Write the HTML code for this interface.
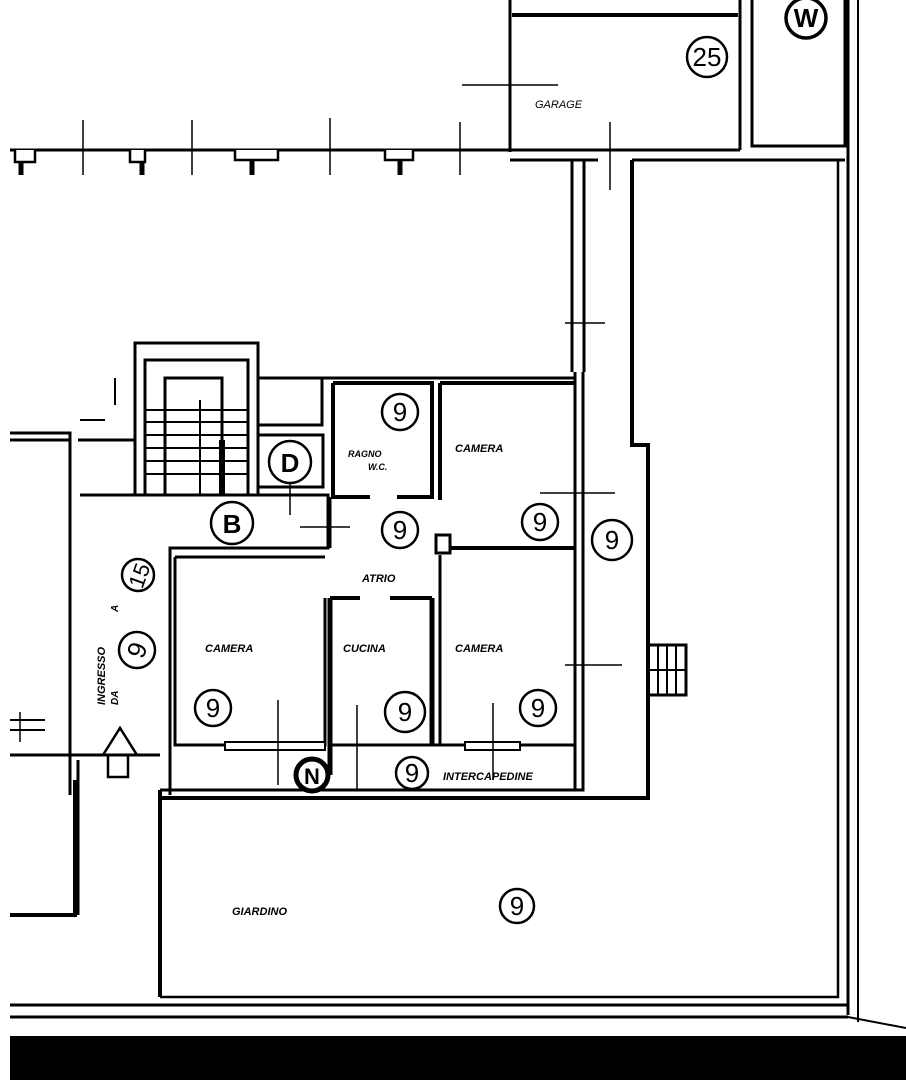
<!DOCTYPE html>
<html><head><meta charset="utf-8"><style>
html,body{margin:0;padding:0;background:#fff;width:906px;height:1080px;overflow:hidden}
svg{display:block}
text{font-family:"Liberation Sans",sans-serif;font-style:italic;font-weight:bold;fill:#000}
.c{fill:#fff;stroke:#000;stroke-width:2.5}
.n{font-style:normal;font-weight:normal;font-size:26px;text-anchor:middle}
</style></head><body>
<svg width="906" height="1080" viewBox="0 0 906 1080" xmlns="http://www.w3.org/2000/svg">
<g stroke="#000" fill="none" stroke-width="3">
<!-- garage -->
<line x1="510" y1="0" x2="510" y2="152"/>
<line x1="512" y1="15" x2="738" y2="15" stroke-width="4"/>
<line x1="740" y1="0" x2="740" y2="150"/>
<line x1="510" y1="150" x2="740" y2="150"/>
<line x1="510" y1="160" x2="598" y2="160"/>
<line x1="632" y1="160" x2="845" y2="160"/>
<line x1="462" y1="85" x2="558" y2="85" stroke-width="1.5"/>
<line x1="610" y1="122" x2="610" y2="190" stroke-width="1.5"/>
<!-- W box -->
<path d="M752 0 V146 H845 V0"/>
<line x1="848" y1="0" x2="848" y2="1015" stroke-width="3"/>
<line x1="858" y1="0" x2="858" y2="1022" stroke-width="2"/>
<!-- left long line -->
<line x1="10" y1="150" x2="510" y2="150"/>
<g stroke-width="1.5">
<line x1="83" y1="120" x2="83" y2="175"/><line x1="192" y1="120" x2="192" y2="175"/>
<line x1="330" y1="118" x2="330" y2="175"/><line x1="460" y1="122" x2="460" y2="175"/>
</g>
<g fill="#fff" stroke-width="2.5">
<path d="M15 150 V162 H35 V150"/><path d="M130 150 V162 H145 V150"/><path d="M235 150 V160 H278 V150"/><path d="M385 150 V160 H413 V150"/>
</g>
<g stroke-width="5"><line x1="21" y1="162" x2="21" y2="175"/><line x1="142" y1="162" x2="142" y2="175"/><line x1="252" y1="160" x2="252" y2="175"/><line x1="400" y1="160" x2="400" y2="175"/></g>
<!-- corridor -->
<line x1="572" y1="160" x2="572" y2="372"/>
<line x1="584" y1="160" x2="584" y2="372"/>
<line x1="565" y1="323" x2="605" y2="323" stroke-width="1.5"/>
<path d="M632 160 V445 H648 V800" stroke-width="4"/>
<!-- apartment top -->
<line x1="330" y1="378" x2="575" y2="378"/>
<path d="M575 372 V550"/><path d="M583 372 V790 H160"/>
<path d="M575 550 V790"/>
<line x1="540" y1="493" x2="615" y2="493" stroke-width="1.5"/>
<line x1="565" y1="665" x2="622" y2="665" stroke-width="1.5"/>
<!-- bathroom -->
<path d="M333 383 V497 H370 M397 497 H432 V383 H333" stroke-width="4"/>
<!-- camera top right -->
<path d="M440 383 V500 M445 548 H575 M440 383 H575" stroke-width="4"/>
<rect x="436" y="535" width="14" height="18" fill="#fff" stroke-width="3"/>
<!-- B corridor -->
<path d="M80 495 H328 V548 H170 V795" />
<path d="M330 497 V548"/>
<line x1="300" y1="527" x2="350" y2="527" stroke-width="1.5"/>
<line x1="290" y1="478" x2="290" y2="515" stroke-width="1.5"/>
<!-- camera left -->
<path d="M175 557 V745 H325 V598" stroke-width="3"/>
<line x1="175" y1="557" x2="325" y2="557"/>
<!-- cucina -->
<path d="M330 598 H360 M390 598 H432" stroke-width="4"/>
<line x1="330" y1="598" x2="330" y2="775" stroke-width="5"/>
<line x1="432" y1="598" x2="432" y2="745" stroke-width="5"/>
<line x1="440" y1="555" x2="440" y2="745" stroke-width="3"/>
<line x1="440" y1="745" x2="575" y2="745"/>
<line x1="330" y1="745" x2="440" y2="745"/>
<rect x="225" y="742" width="100" height="8" fill="#fff" stroke-width="2"/>
<rect x="465" y="742" width="55" height="8" fill="#fff" stroke-width="2"/>
<g stroke-width="1.5"><line x1="278" y1="700" x2="278" y2="785"/><line x1="357" y1="705" x2="357" y2="790"/><line x1="493" y1="703" x2="493" y2="780"/></g>
<!-- intercapedine -->
<line x1="160" y1="798" x2="648" y2="798" stroke-width="4"/>
<line x1="10" y1="755" x2="160" y2="755"/>
<!-- stair -->
<path d="M135 495 V343 H258 V495"/>
<path d="M145 495 V360 H248 V495"/>
<path d="M165 495 V378 H222 V495"/>
<g stroke-width="2"><line x1="145" y1="410" x2="248" y2="410"/><line x1="145" y1="422" x2="248" y2="422"/><line x1="145" y1="435" x2="248" y2="435"/><line x1="145" y1="448" x2="248" y2="448"/><line x1="145" y1="461" x2="248" y2="461"/><line x1="145" y1="474" x2="248" y2="474"/><line x1="200" y1="400" x2="200" y2="495"/></g>
<line x1="222" y1="440" x2="222" y2="495" stroke-width="6"/>
<path d="M258 378 V425 H322 V378 H258 M258 378 V343"/>
<line x1="258" y1="378" x2="330" y2="378"/>
<rect x="258" y="435" width="65" height="52"/>
<!-- left building -->
<path d="M10 433 H70 V795"/><path d="M78 440 H135 V480"/>
<path d="M10 440 H70"/>
<line x1="78" y1="760" x2="78" y2="915"/><line x1="160" y1="790" x2="160" y2="997" stroke-width="4"/>
<path d="M75 780 V915 H10" stroke-width="4"/>
<path d="M10 720 H45 M10 730 H45" stroke-width="2"/>
<line x1="20" y1="712" x2="20" y2="742" stroke-width="1.5"/>
<line x1="115" y1="378" x2="115" y2="405" stroke-width="2"/>
<line x1="80" y1="420" x2="105" y2="420" stroke-width="2"/>
<!-- arrow -->
<path d="M103 755 L120 728 L137 755" stroke-width="2.5"/>
<rect x="108" y="755" width="20" height="22" stroke-width="2.5"/>
<!-- right exterior stair -->
<rect x="648" y="645" width="38" height="50" stroke-width="3"/>
<g stroke-width="2"><line x1="648" y1="670" x2="686" y2="670"/><line x1="658" y1="645" x2="658" y2="695"/><line x1="667" y1="645" x2="667" y2="695"/><line x1="676" y1="645" x2="676" y2="695"/></g>
<!-- garden -->
<path d="M160 997 H838 V160" stroke-width="2.5"/>
<line x1="10" y1="1005" x2="848" y2="1005" stroke-width="3"/>
<line x1="10" y1="1017" x2="848" y2="1017" stroke-width="3"/>
<line x1="848" y1="1017" x2="906" y2="1028" stroke-width="2"/>
</g>
<rect x="10" y="1036" width="896" height="44" fill="#000"/>
<!-- circles -->
<g>
<circle class="c" cx="400" cy="412" r="18"/><text class="n" x="400" y="421">9</text>
<circle class="c" cx="400" cy="530" r="18"/><text class="n" x="400" y="539">9</text>
<circle class="c" cx="540" cy="522" r="18"/><text class="n" x="540" y="531">9</text>
<circle class="c" cx="612" cy="540" r="20"/><text class="n" x="612" y="549">9</text>
<circle class="c" cx="213" cy="708" r="18"/><text class="n" x="213" y="717">9</text>
<circle class="c" cx="405" cy="712" r="20"/><text class="n" x="405" y="721">9</text>
<circle class="c" cx="538" cy="708" r="18"/><text class="n" x="538" y="717">9</text>
<circle class="c" cx="412" cy="773" r="16"/><text class="n" x="412" y="782">9</text>
<circle class="c" cx="517" cy="906" r="17"/><text class="n" x="517" y="915">9</text>
<circle class="c" cx="138" cy="575" r="16"/><text class="n" x="138" y="584" transform="rotate(-70 138 575)" style="font-size:22px">15</text>
<circle class="c" cx="137" cy="650" r="18"/><text class="n" x="137" y="659" transform="rotate(-70 137 650)">9</text>
<circle class="c" cx="232" cy="523" r="21"/><text class="n" x="232" y="533" style="font-weight:bold">B</text>
<circle class="c" cx="290" cy="462" r="21"/><text class="n" x="290" y="472" style="font-weight:bold">D</text>
<circle class="c" cx="312" cy="775" r="16" style="stroke-width:5"/><text class="n" x="312" y="784" style="font-weight:bold;font-size:22px">N</text>
<circle class="c" cx="707" cy="57" r="20"/><text class="n" x="707" y="66">25</text>
<circle class="c" cx="806" cy="18" r="20" style="stroke-width:3.5"/><text class="n" x="806" y="27" style="font-weight:bold">W</text>
</g>
<g font-size="11">
<text x="535" y="108" style="font-weight:normal">GARAGE</text>
<text x="455" y="452">CAMERA</text>
<text x="348" y="457" font-size="9">RAGNO</text>
<text x="368" y="470" font-size="9">W.C.</text>
<text x="362" y="582">ATRIO</text>
<text x="205" y="652">CAMERA</text>
<text x="343" y="652">CUCINA</text>
<text x="455" y="652">CAMERA</text>
<text x="443" y="780">INTERCAPEDINE</text>
<text x="232" y="915">GIARDINO</text>
<text x="0" y="0" transform="translate(105 705) rotate(-90)">INGRESSO</text>
<text x="0" y="0" transform="translate(118 612) rotate(-90)" font-size="10">A</text>
<text x="0" y="0" transform="translate(118 705) rotate(-90)" font-size="10">DA</text>
</g>
</svg>
</body></html>
